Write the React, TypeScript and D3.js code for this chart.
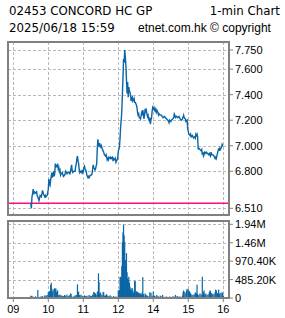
import React from "react";
import * as d3 from "d3";

const title = "02453 CONCORD HC GP";
const chartType = "1-min Chart";
const stamp = "2025/06/18 15:59";
const source = "etnet.com.hk © copyright";

const prevClose = 6.55;
const priceTicks = [7.75, 7.6, 7.4, 7.2, 7.0, 6.8, 6.51];
const volTicks = [1940.8, 1455.6, 970.4, 485.2, 0];
const volTickLabels = ["1.94M", "1.46M", "970.40K", "485.20K", "0"];
const hourTicks = ["09:00", "10:00", "11:00", "12:00", "14:00", "15:00", "16:00"];
const hourLabels = ["09", "10", "11", "12", "14", "15", "16"];

const prices: [string, number][] = [
["09:30",6.55],["09:31",6.51],["09:32",6.60],["09:33",6.62],["09:34",6.66],["09:35",6.62],["09:36",6.64],["09:38",6.63],["09:40",6.64],["09:41",6.61],["09:42",6.60],["09:44",6.57],["09:45",6.59],["09:46",6.61],["09:48",6.60],["09:49",6.62],["09:50",6.65],["09:52",6.62],["09:54",6.60],["09:55",6.61],["09:56",6.60],["09:58",6.61],
["10:00",6.66],["10:01",6.74],["10:02",6.70],["10:03",6.69],["10:04",6.73],["10:05",6.76],["10:06",6.79],["10:07",6.75],["10:08",6.77],["10:09",6.80],["10:10",6.76],["10:11",6.78],["10:12",6.86],["10:13",6.83],["10:14",6.85],["10:15",6.83],["10:16",6.86],["10:17",6.82],["10:18",6.83],["10:19",6.80],["10:20",6.81],["10:21",6.77],["10:22",6.78],["10:24",6.79],["10:25",6.77],["10:26",6.76],["10:28",6.77],["10:30",6.80],["10:31",6.79],["10:32",6.78],["10:33",6.79],["10:35",6.79],["10:37",6.78],["10:38",6.80],["10:40",6.85],["10:41",6.80],["10:42",6.79],["10:44",6.80],["10:46",6.80],["10:47",6.84],["10:48",6.86],["10:49",6.90],["10:50",6.92],["10:51",6.88],["10:52",6.86],["10:53",6.81],["10:54",6.79],["10:55",6.80],["10:57",6.79],["10:58",6.81],["10:59",6.79],
["11:00",6.80],["11:01",6.83],["11:02",6.84],["11:03",6.82],["11:05",6.80],["11:06",6.77],["11:07",6.76],["11:08",6.75],["11:09",6.76],["11:10",6.75],["11:12",6.77],["11:14",6.77],["11:15",6.78],["11:16",6.82],["11:17",6.85],["11:18",6.83],["11:19",6.82],["11:20",6.81],["11:21",6.82],["11:22",6.84],["11:23",6.86],["11:24",6.98],["11:25",7.05],["11:26",7.01],["11:27",7.00],["11:28",7.02],["11:29",7.00],["11:30",6.99],["11:31",7.00],["11:32",6.98],["11:34",6.96],["11:35",6.95],["11:36",6.93],["11:38",6.92],["11:39",6.93],["11:40",6.91],["11:41",6.89],["11:42",6.90],["11:43",6.89],["11:44",6.91],["11:46",6.90],["11:47",6.91],["11:48",6.90],["11:50",6.91],["11:51",6.88],["11:52",6.90],["11:54",6.89],["11:55",6.90],["11:56",6.87],["11:57",6.88],["11:59",6.90],
["13:00",6.96],["13:01",6.97],["13:02",6.99],["13:03",7.06],["13:04",7.15],["13:05",7.20],["13:06",7.27],["13:07",7.40],["13:08",7.53],["13:09",7.68],["13:10",7.65],["13:11",7.75],["13:12",7.70],["13:13",7.63],["13:14",7.52],["13:15",7.41],["13:16",7.50],["13:17",7.38],["13:18",7.46],["13:19",7.43],["13:20",7.42],["13:21",7.40],["13:22",7.35],["13:23",7.37],["13:24",7.38],["13:25",7.35],["13:26",7.36],["13:27",7.37],["13:28",7.34],["13:29",7.34],["13:30",7.33],["13:31",7.32],["13:32",7.30],["13:33",7.26],["13:34",7.24],["13:35",7.25],["13:36",7.22],["13:37",7.22],["13:38",7.21],["13:39",7.23],["13:40",7.26],["13:41",7.25],["13:42",7.28],["13:43",7.25],["13:44",7.21],["13:45",7.24],["13:46",7.29],["13:47",7.27],["13:48",7.28],["13:49",7.25],["13:50",7.23],["13:51",7.24],["13:52",7.21],["13:53",7.20],["13:54",7.22],["13:55",7.17],["13:56",7.20],["13:57",7.22],["13:58",7.27],["13:59",7.30],
["14:00",7.29],["14:01",7.30],["14:02",7.28],["14:03",7.29],["14:04",7.27],["14:05",7.26],["14:06",7.28],["14:07",7.27],["14:08",7.26],["14:09",7.24],["14:10",7.25],["14:12",7.24],["14:14",7.24],["14:15",7.23],["14:17",7.22],["14:19",7.23],["14:21",7.22],["14:23",7.21],["14:25",7.20],["14:26",7.19],["14:27",7.18],["14:28",7.20],["14:30",7.19],["14:31",7.20],["14:33",7.21],["14:35",7.22],["14:36",7.25],["14:37",7.24],["14:38",7.22],["14:40",7.23],["14:42",7.22],["14:44",7.23],["14:46",7.21],["14:48",7.20],["14:50",7.21],["14:52",7.24],["14:53",7.22],["14:55",7.21],["14:56",7.19],["14:58",7.20],["14:59",7.13],
["15:00",7.11],["15:01",7.09],["15:03",7.08],["15:04",7.09],["15:05",7.07],["15:07",7.08],["15:09",7.06],["15:11",7.07],["15:12",7.06],["15:13",7.09],["15:14",7.08],["15:15",7.09],["15:16",7.07],["15:17",6.97],["15:18",6.98],["15:20",6.97],["15:22",6.96],["15:23",6.97],["15:24",6.93],["15:25",6.95],["15:26",6.92],["15:27",6.93],["15:28",6.95],["15:30",6.94],["15:31",6.95],["15:33",6.94],["15:35",6.93],["15:36",6.94],["15:38",6.92],["15:39",6.95],["15:40",6.93],["15:42",6.93],["15:44",6.92],["15:45",6.91],["15:46",6.90],["15:47",6.91],["15:48",6.90],["15:49",6.92],["15:50",6.94],["15:51",6.96],["15:52",6.98],["15:53",6.96],["15:54",6.98],["15:55",6.97],["15:56",6.98],["15:57",6.99],["15:58",7.01],["15:59",7.00],["16:00",7.00]
];

// volume in thousands of shares
const volumes: [string, number][] = [
["09:30",60],["09:31",40],["09:32",55],["09:34",30],["09:36",20],["09:38",45],["09:42",210],["09:44",20],["09:46",35],["09:48",40],["09:50",50],["09:52",30],["09:54",70],["09:56",60],["09:58",80],
["10:00",150],["10:02",180],["10:03",120],["10:04",340],["10:05",400],["10:06",250],["10:07",160],["10:08",200],["10:10",240],["10:11",260],["10:12",230],["10:13",250],["10:14",160],["10:15",140],["10:16",200],["10:18",80],["10:19",60],["10:20",90],["10:22",70],["10:24",60],["10:26",50],["10:28",80],["10:30",60],["10:32",90],["10:34",50],["10:36",70],["10:38",120],["10:39",110],["10:40",40],["10:42",30],["10:44",50],["10:46",70],["10:48",80],["10:50",360],["10:51",120],["10:52",170],["10:53",80],["10:54",60],["10:56",90],["10:58",60],
["11:00",40],["11:02",70],["11:04",50],["11:06",60],["11:08",40],["11:10",80],["11:12",60],["11:14",50],["11:16",90],["11:18",160],["11:19",140],["11:20",60],["11:21",120],["11:22",80],["11:24",150],["11:25",180],["11:26",650],["11:27",420],["11:28",100],["11:29",150],["11:30",120],["11:32",80],["11:34",160],["11:35",150],["11:36",60],["11:38",70],["11:40",100],["11:42",60],["11:44",50],["11:46",70],["11:48",40],["11:50",30],["11:52",50],["11:54",30],["11:56",40],["11:58",20],["11:59",30],
["13:00",200],["13:01",180],["13:02",210],["13:03",550],["13:04",560],["13:05",520],["13:06",840],["13:07",1470],["13:08",1730],["13:09",1930],["13:10",1650],["13:11",1480],["13:12",1000],["13:13",820],["13:14",1180],["13:15",680],["13:16",520],["13:17",480],["13:18",560],["13:19",400],["13:20",300],["13:21",220],["13:22",250],["13:23",180],["13:24",260],["13:25",150],["13:26",120],["13:27",200],["13:28",450],["13:29",440],["13:30",150],["13:31",180],["13:32",100],["13:33",160],["13:34",120],["13:35",140],["13:36",110],["13:37",130],["13:38",90],["13:39",120],["13:40",80],["13:41",140],["13:42",550],["13:43",100],["13:44",60],["13:46",120],["13:47",90],["13:48",70],["13:50",60],["13:52",40],["13:54",150],["13:56",140],["13:58",60],
["14:00",170],["14:02",60],["14:04",40],["14:06",80],["14:08",50],["14:10",30],["14:12",60],["14:14",40],["14:16",80],["14:18",30],["14:20",20],["14:22",40],["14:24",30],["14:26",20],["14:28",40],["14:30",30],["14:32",20],["14:34",50],["14:36",30],["14:38",80],["14:40",40],["14:42",50],["14:44",30],["14:46",40],["14:48",20],["14:50",60],["14:51",150],["14:52",200],["14:54",160],["14:56",120],["14:57",200],["14:58",240],
["15:00",230],["15:01",160],["15:02",180],["15:03",140],["15:04",120],["15:06",90],["15:08",80],["15:10",100],["15:12",150],["15:13",90],["15:14",130],["15:15",350],["15:16",100],["15:18",80],["15:20",120],["15:22",90],["15:24",560],["15:25",100],["15:26",150],["15:27",200],["15:28",90],["15:30",120],["15:32",80],["15:34",100],["15:36",150],["15:37",200],["15:38",180],["15:40",130],["15:42",100],["15:44",110],["15:46",150],["15:47",220],["15:48",200],["15:50",130],["15:52",220],["15:53",100],["15:54",120],["15:56",140],["15:58",150],["15:59",130],["16:00",60]
];

const BLUE = "#0a66a6";
const PINK = "#ff0a80";
const GRID = "#b8b8b8";
const FRAME = "#808080";
const FONT = "'DejaVu Sans', sans-serif";
const AXFONT = "'Liberation Sans', Arial, sans-serif";

function tradingMinute(t: string): number {
  const [h, m] = t.split(":").map(Number);
  const mins = h * 60 + m - 540;
  return h >= 13 ? mins - 60 : Math.min(mins, 180);
}

export default function App() {
  const W = 285, H = 318;
  const top = { x0: 8, x1: 229, y0: 42, y1: 215 };
  const vol = { x0: 8, x1: 229, y0: 221, y1: 298 };

  const x = d3.scaleLinear().domain([0, 360]).range([13.3, 223.3]);
  const y = d3.scaleLinear().domain([6.51, 7.75]).range([208.3, 50]);
  const yv = d3.scaleLinear().domain([0, 1940.8]).range([298, 224.3]);

  const line = d3
    .line<[string, number]>()
    .x((d) => x(tradingMinute(d[0])))
    .y((d) => y(d[1]));

  const fmt = d3.format(".3f");

  return (
    <div style={{ position: "fixed", left: 0, top: 0 }}>
      <svg width={W} height={H} style={{ display: "block", background: "#fff" }}>
        <rect width={W} height={H} fill="#fff" />
        {/* header */}
        <g fontFamily={FONT} fontSize={11.8} fill="#000">
          <text x={9} y={15}>{title}</text>
          <text x={280} y={15} textAnchor="end">{chartType}</text>
          <text x={9} y={32}>{stamp}</text>
          <text x={138} y={32} fontFamily={AXFONT} fontSize={12}>{source}</text>
        </g>

        {/* grid */}
        <g stroke={GRID} strokeWidth={1} strokeDasharray="3,2">
          {priceTicks.map((t) => (
            <line key={"pg" + t} x1={top.x0} x2={top.x1} y1={Math.round(y(t)) + 0.5} y2={Math.round(y(t)) + 0.5} />
          ))}
          {volTicks.slice(0, 4).map((t) => (
            <line key={"vg" + t} x1={vol.x0} x2={vol.x1} y1={Math.round(yv(t)) + 0.5} y2={Math.round(yv(t)) + 0.5} />
          ))}
          {hourTicks.map((h) => {
            const xx = Math.round(x(tradingMinute(h))) + 0.5;
            return (
              <g key={"hg" + h}>
                <line x1={xx} x2={xx} y1={top.y0} y2={top.y1} />
                <line x1={xx} x2={xx} y1={vol.y0} y2={vol.y1} />
              </g>
            );
          })}
        </g>

        {/* prev close */}
        <line x1={top.x0} x2={top.x1} y1={y(prevClose)} y2={y(prevClose)} stroke={PINK} strokeWidth={1.5} />

        {/* price line */}
        <path d={line(prices) || ""} fill="none" stroke={BLUE} strokeWidth={1.4} strokeLinejoin="miter" />

        {/* volume bars */}
        <g fill={BLUE}>
          {volumes.map((d) => {
            const xx = x(tradingMinute(d[0]));
            const yy = yv(d[1]);
            return <rect key={d[0]} x={xx - 0.6} y={yy} width={1.2} height={Math.max(0, yv(0) - yy)} />;
          })}
        </g>

        {/* frames */}
        <g fill="none" stroke={FRAME} strokeWidth={2}>
          <rect x={top.x0} y={top.y0} width={top.x1 - top.x0} height={top.y1 - top.y0} />
          <rect x={vol.x0} y={vol.y0} width={vol.x1 - vol.x0} height={vol.y1 - vol.y0} />
        </g>

        {/* right axis */}
        <g fontFamily={AXFONT} fontSize={11} fill="#000">
          {priceTicks.map((t) => (
            <g key={"pt" + t}>
              <line x1={top.x1} x2={top.x1 + 4} y1={y(t)} y2={y(t)} stroke={FRAME} strokeWidth={1} />
              <text x={235} y={y(t)} dy="0.36em">{fmt(t)}</text>
            </g>
          ))}
          {volTicks.map((t, i) => (
            <g key={"vt" + t}>
              <line x1={vol.x1} x2={vol.x1 + 4} y1={yv(t)} y2={yv(t)} stroke={FRAME} strokeWidth={1} />
              <text x={235} y={yv(t)} dy="0.36em">{volTickLabels[i]}</text>
            </g>
          ))}
        </g>

        {/* x axis */}
        <g fontFamily={AXFONT} fontSize={11} fill="#000">
          {hourTicks.map((h, i) => {
            const xx = x(tradingMinute(h));
            return (
              <g key={"xt" + h}>
                <line x1={xx} x2={xx} y1={vol.y1} y2={vol.y1 + 4} stroke={FRAME} strokeWidth={1} />
                <text x={xx} y={313} textAnchor="middle">{hourLabels[i]}</text>
              </g>
            );
          })}
        </g>
      </svg>
    </div>
  );
}
